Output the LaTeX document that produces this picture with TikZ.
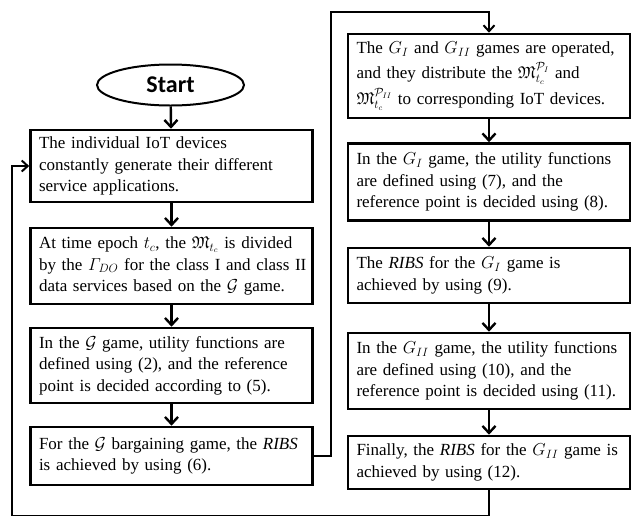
\documentclass[tikz,border=0pt]{standalone}
\usepackage{amsmath,amssymb}
\usepackage{fontspec}
\setmainfont{Liberation Serif}
\newfontfamily\startfont{Carlito}
\usetikzlibrary{arrows.meta, positioning, shapes.geometric, calc}
\tikzset{
  every picture/.style={x=1pt, y=-1pt},
  stepbox/.style={draw, line width=2.6pt, align=left, text width=265pt, inner xsep=8.5pt, inner ysep=4pt,
    font=\fontsize{17pt}{21.5pt}\selectfont},
  startnode/.style={ellipse, draw, line width=2pt, minimum width=147pt, minimum height=41pt, inner sep=0pt,
    font=\startfont\bfseries\fontsize{24pt}{26pt}\selectfont},
  arrow/.style={-{Straight Barb[length=7pt, width=13pt]}, line width=2.4pt},
  loopline/.style={-{Straight Barb[length=6pt, width=11pt]}, line width=2pt},
}
\begin{document}
\begin{tikzpicture}
  \useasboundingbox (0,0) rectangle (631,515);
  \node[startnode] (start) at (170.5,85) {Start};
  \node[stepbox, minimum height=72pt] (l1) at (171.5,166) {The individual IoT devices\\constantly generate their different\\service applications.};
  \node[stepbox, minimum height=76pt] (l2) at (171.5,266) {At time epoch $t_c$, the $\mathfrak{M}_{t_c}$ is divided\\\mbox{by the $\varGamma_{DO}$ for the class I and class II}\\data services based on the $\mathcal{G}$ game.};
  \node[stepbox, minimum height=75pt] (l3) at (171.5,365.5) {In the $\mathcal{G}$ game, utility functions are\\defined using (2), and the reference\\point is decided according to (5).};
  \node[stepbox, minimum height=58pt] (l4) at (171.5,456) {For the $\mathcal{G}$ bargaining game, the \textit{RIBS}\\is achieved by using (6).};
  \node[stepbox, minimum height=84pt] (r1) at (489,76) {The $G_I$ and $G_{II}$ games are operated,\\[3pt]and they distribute the $\mathfrak{M}_{t_c}^{\mathcal{P}_I}$ and\\[3pt]$\mathfrak{M}_{t_c}^{\mathcal{P}_{II}}$ to corresponding IoT devices.};
  \node[stepbox, minimum height=77pt] (r2) at (489,182) {In the $G_I$ game, the utility functions\\are defined using (7), and the\\reference point is decided using (8).};
  \node[stepbox, minimum height=55pt] (r3) at (489,275.5) {The \textit{RIBS} for the $G_I$ game is\\achieved by using (9).};
  \node[stepbox, minimum height=76pt] (r4) at (489,371) {In the $G_{II}$ game, the utility functions\\are defined using (10), and the\\\mbox{reference point is decided using (11).}};
  \node[stepbox, minimum height=53pt] (r5) at (489,462.5) {\mbox{Finally, the \textit{RIBS} for the $G_{II}$ game is}\\achieved by using (12).};
  \coordinate (topturn) at (331,12);
  \coordinate (bottomturn) at (12,516);
  \draw[arrow] (start) -- (l1);
  \draw[arrow] (l1) -- (l2);
  \draw[arrow] (l2) -- (l3);
  \draw[arrow] (l3) -- (l4);
  \draw[arrow] (r1) -- (r2);
  \draw[arrow] (r2) -- (r3);
  \draw[arrow] (r3) -- (r4);
  \draw[arrow] (r4) -- (r5);
  \draw[loopline] (l4.east) -| (topturn) -| (r1.north);
  \draw[loopline] (r5.south) |- (bottomturn) |- (l1.west);
\end{tikzpicture}
\end{document}
